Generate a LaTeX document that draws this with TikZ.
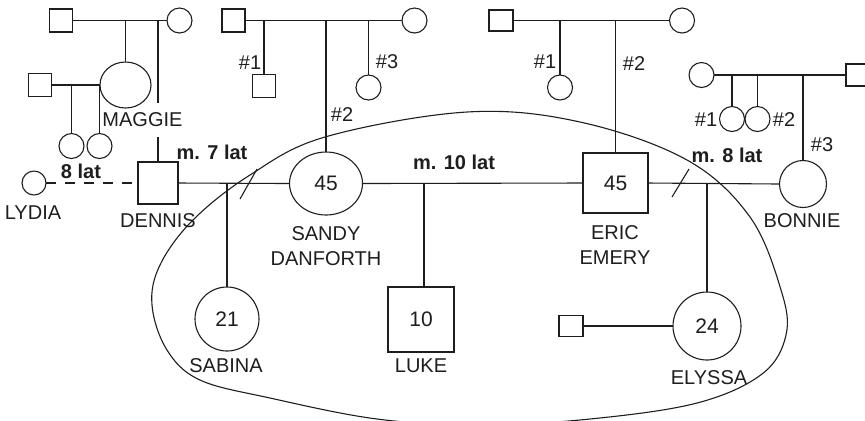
\documentclass[tikz,border=0pt]{standalone}
\usepackage{fontspec}
\setmainfont{Liberation Sans}
\usetikzlibrary{shapes.geometric}
\definecolor{ink}{HTML}{1E1E1E}
\tikzset{
  every node/.style={inner sep=0pt, outer sep=0pt},
  ln/.style={draw=ink, line width=0.55pt},
  sq/.style={draw=ink, line width=0.55pt, rectangle, fill=white, minimum width=#1, minimum height=#1},
  rs/.style 2 args={draw=ink, line width=0.55pt, rectangle, fill=white, minimum width=#1, minimum height=#2},
  ci/.style={draw=ink, line width=0.55pt, circle, fill=white, minimum size=#1},
  el/.style 2 args={draw=ink, line width=0.55pt, ellipse, fill=white, minimum width=#1, minimum height=#2},
  lbl/.style={text=ink, font=\fontsize{10}{12.5}\selectfont, align=center},
  yrs/.style={text=ink, font=\fontsize{10}{12.5}\selectfont\bfseries},
  num/.style={text=ink, font=\fontsize{10.5}{12.5}\selectfont}
}
\begin{document}
\begin{tikzpicture}[x=0.5pt, y=-0.5pt]
\useasboundingbox (0,0) rectangle (865,420);
\clip (0,0) rectangle (865,420);

% household boundary
\draw[ln] plot[smooth cycle, tension=0.6] coordinates {
 (325,137) (467,112) (580,122) (687,160) (750,217) (781,290) (786,335)
 (762,374) (697,403) (590,419) (480,425) (377,419) (270,398) (200,380) (167,350)
 (152,305) (160,265) (193,220) (250,175)};

% ---------- Maggie's family ----------
\node[sq=11.5pt] (gpm) at (61,20.5) {};
\node[ci=12.5pt] (gpf) at (179.5,20.5) {};
\draw[ln] (gpm.east) -- (gpf.west);
\node[el={25.5pt}{23pt}] (maggie) at (125.5,85) {};
\draw[ln] (maggie.north |- gpm) -- (maggie.north);
\node[sq=11.5pt] (mh) at (40,85) {};
\draw[ln] (mh.east) -- (maggie.west);
\node[ci=12.5pt] (mc1) at (71.5,146) {};
\node[ci=12.5pt] (mc2) at (99.5,146) {};
\draw[ln] (mc1.north |- mh) -- (mc1.north);
\draw[ln] (mc2.north |- mh) -- (mc2.north);
\node[lbl] (maggielbl) at (142.5,120) {MAGGIE};

\node[rs={20pt}{21pt}] (dennis) at (158,183) {};
\coordinate (mgA) at (158,103);
\coordinate (mgB) at (158,137);
\draw[ln] (dennis.north |- gpm) -- (mgA);
\draw[ln] (mgB) -- (dennis.north);
\node[lbl] (dennislbl) at (158,221) {DENNIS};

\node[ci=12pt] (lydia) at (34,183) {};
\node[lbl] (lydialbl) at (33,213) {LYDIA};
\draw[ln, dash pattern=on 5pt off 4.5pt] (lydia.east) -- (dennis.west);
\node[yrs] (y8) at (81,171) {8 lat};

% ---------- Sandy's family ----------
\node[sq=11.5pt] (spm) at (233.5,20.5) {};
\node[ci=12.5pt] (spf) at (414.5,20.5) {};
\draw[ln] (spm.east) -- (spf.west);
\node[sq=11.5pt] (s1) at (264,86) {};
\draw[ln] (s1.north |- spm) -- (s1.north);
\node[lbl] (s1l) at (250,63) {\#1};
\node[ci=12.5pt] (s3) at (368.5,87.5) {};
\draw[ln] (s3.north |- spm) -- (s3.north);
\node[lbl] (s3l) at (387,62) {\#3};
\node[el={36.5pt}{31.5pt}, num] (sandy) at (326,183.5) {45};
\draw[ln] (sandy.north |- spm) -- (sandy.north);
\node[lbl] (s2l) at (342,115) {\#2};
\node[lbl] (sandylbl) at (326,246) {SANDY\\DANFORTH};

% Dennis - Sandy
\draw[ln] (dennis.east) -- (sandy.west);
\coordinate (dv1a) at (240,199);
\coordinate (dv1b) at (257,169);
\draw[ln] (dv1a) -- (dv1b);
\node[yrs] (y7) at (212,152) {m. 7 lat};
\node[ci=32pt, num] (sabina) at (227,319) {21};
\draw[ln] (sabina.north |- dennis) -- (sabina.north);
\node[lbl] (sabinalbl) at (226,366) {SABINA};

% ---------- Eric's family ----------
\node[rs={12pt}{10.5pt}] (epm) at (501,20.5) {};
\node[ci=12.5pt] (epf) at (682,20.5) {};
\draw[ln] (epm.east) -- (epf.west);
\node[ci=12.5pt] (e1) at (560,87.5) {};
\draw[ln] (e1.north |- epm) -- (e1.north);
\node[lbl] (e1l) at (545,62) {\#1};
\node[rs={32.5pt}{30pt}, num] (eric) at (615.5,183) {45};
\draw[ln] (eric.north |- epm) -- (eric.north);
\node[lbl] (e2l) at (634,64) {\#2};
\node[lbl] (ericlbl) at (615,245.5) {ERIC\\EMERY};

% Sandy - Eric
\draw[ln] (sandy.east) -- (eric.west);
\node[yrs] (y10) at (454,162) {m. 10 lat};
\node[rs={33pt}{32.5pt}, num] (luke) at (421,319.5) {10};
\coordinate (lk) at (424,183);
\draw[ln] (lk) -- (lk |- luke.north);
\node[lbl] (lukelbl) at (421,366) {LUKE};

% ---------- Bonnie's family ----------
\node[ci=12.5pt] (bpf) at (701.5,75) {};
\node[sq=11pt] (bpm) at (857,75) {};
\draw[ln] (bpf.east) -- (bpm.west);
\node[ci=12.5pt] (b1) at (732,119) {};
\node[ci=12.5pt] (b2) at (757.5,119) {};
\draw[ln] (b1.north |- bpf) -- (b1.north);
\draw[ln] (b2.north |- bpf) -- (b2.north);
\node[lbl] (b1l) at (706,120) {\#1};
\node[lbl] (b2l) at (784,120) {\#2};
\node[ci=23.5pt] (bonnie) at (803,184) {};
\draw[ln] (bonnie.north |- bpf) -- (bonnie.north);
\node[lbl] (b3l) at (822,145) {\#3};
\node[lbl] (bonnielbl) at (802,221) {BONNIE};

% Eric - Bonnie
\draw[ln] (eric.east) -- (bonnie.west);
\coordinate (dv2a) at (672,197);
\coordinate (dv2b) at (689,169);
\draw[ln] (dv2a) -- (dv2b);
\node[yrs] (y8b) at (727,155) {m. 8 lat};
\node[ci=34pt, num] (elyssa) at (707,326) {24};
\draw[ln] (elyssa.north |- eric) -- (elyssa.north);
\node[lbl] (elyssalbl) at (709,378) {ELYSSA};
\node[rs={12pt}{10.5pt}] (ep) at (571,326) {};
\draw[ln] (ep.east) -- (elyssa.west);
\end{tikzpicture}
\end{document}
